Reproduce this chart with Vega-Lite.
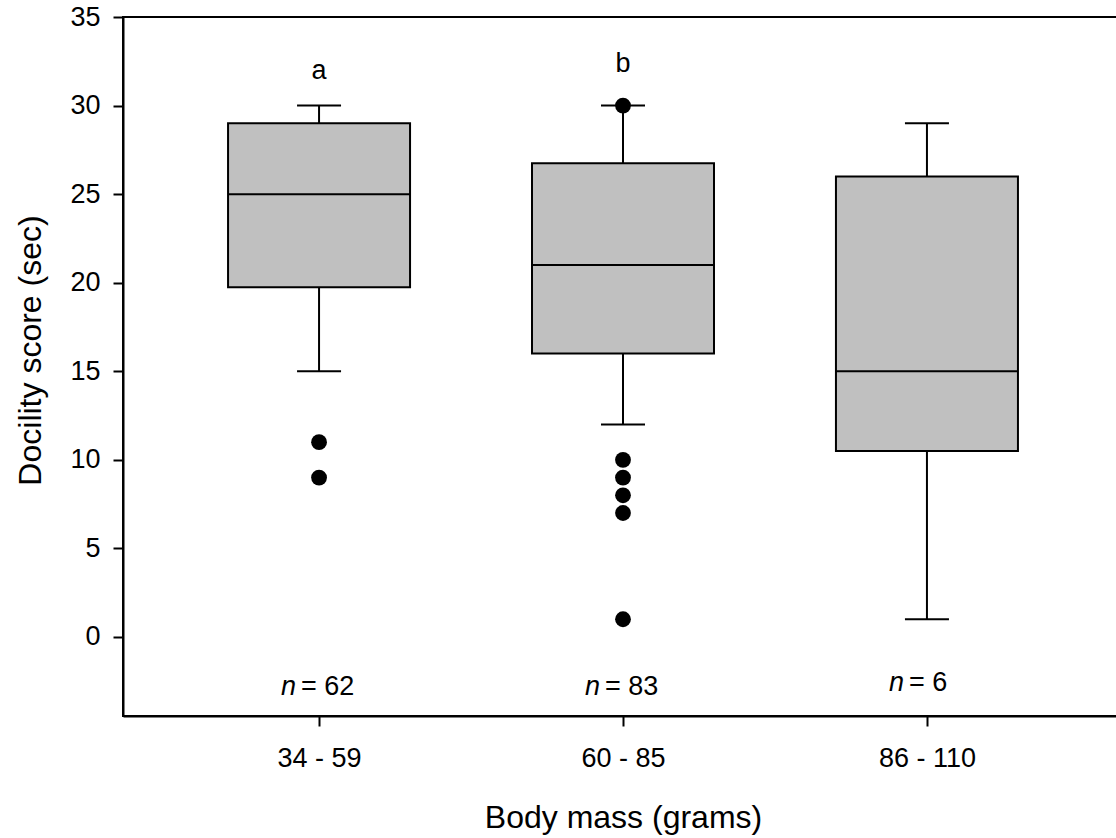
{
  "$schema": "https://vega.github.io/schema/vega-lite/v6.json",
  "autosize": "none",
  "width": 1000,
  "height": 699,
  "padding": {"left": 123, "top": 17, "right": 0, "bottom": 122},
  "background": "white",
  "config": {
    "font": "Liberation Sans",
    "view": {"stroke": "black", "strokeWidth": 2},
    "axis": {"domainColor": "black", "domainWidth": 2, "tickColor": "black", "tickWidth": 2, "labelColor": "black", "titleColor": "black", "grid": false, "labelFont": "Liberation Sans", "titleFont": "Liberation Sans", "titleFontWeight": "normal"}
  },
  "datasets": {
    "boxes": [
      {"mass": "34 - 59", "lower": 15, "q1": 19.75, "median": 25, "q3": 29, "upper": 30},
      {"mass": "60 - 85", "lower": 12, "q1": 16, "median": 21, "q3": 26.75, "upper": 30},
      {"mass": "86 - 110", "lower": 1, "q1": 10.5, "median": 15, "q3": 26, "upper": 29}
    ],
    "outliers": [
      {"mass": "34 - 59", "score": 11},
      {"mass": "34 - 59", "score": 9},
      {"mass": "60 - 85", "score": 30},
      {"mass": "60 - 85", "score": 10},
      {"mass": "60 - 85", "score": 9},
      {"mass": "60 - 85", "score": 8},
      {"mass": "60 - 85", "score": 7},
      {"mass": "60 - 85", "score": 1}
    ],
    "letters": [
      {"mass": "34 - 59", "y": 31.5, "label": "a"},
      {"mass": "60 - 85", "y": 31.9, "label": "b"}
    ],
    "counts": [
      {"mass": "34 - 59", "y": -3.27, "n": "n", "rest": "= 62"},
      {"mass": "60 - 85", "y": -3.27, "n": "n", "rest": "= 83"},
      {"mass": "86 - 110", "y": -3.05, "n": "n", "rest": "= 6"}
    ]
  },
  "encoding": {
    "x": {
      "field": "mass", "type": "ordinal", "sort": ["34 - 59", "60 - 85", "86 - 110"],
      "scale": {"type": "point", "padding": 0.645, "domain": ["34 - 59", "60 - 85", "86 - 110"]},
      "axis": {"title": "Body mass (grams)", "labelAngle": 0, "labelFontSize": 27, "tickSize": 10, "labelPadding": 19, "titleFontSize": 32, "titleBaseline": "alphabetic", "titleY": 111}
    }
  },
  "layer": [
    {
      "data": {"name": "boxes"},
      "mark": {"type": "rule", "color": "black", "strokeWidth": 2},
      "encoding": {
        "y": {"field": "lower", "type": "quantitative", "scale": {"domain": [-4.46, 35], "nice": false, "zero": false},
          "axis": {"title": "Docility score (sec)", "values": [0, 5, 10, 15, 20, 25, 30, 35], "labelFontSize": 27, "tickSize": 10, "labelPadding": 13, "titleFontSize": 32, "titleBaseline": "middle", "titleX": -93, "titleY": 333}},
        "y2": {"field": "upper"}
      }
    },
    {
      "data": {"name": "boxes"},
      "mark": {"type": "bar", "size": 182, "fill": "#c0c0c0", "stroke": "black", "strokeWidth": 2},
      "encoding": {
        "y": {"field": "q1", "type": "quantitative"},
        "y2": {"field": "q3"}
      }
    },
    {
      "data": {"name": "boxes"},
      "mark": {"type": "tick", "size": 182, "thickness": 2, "color": "black", "opacity": 1},
      "encoding": {"y": {"field": "median", "type": "quantitative"}}
    },
    {
      "data": {"name": "boxes"},
      "mark": {"type": "tick", "size": 44, "thickness": 2, "color": "black", "opacity": 1},
      "encoding": {"y": {"field": "lower", "type": "quantitative"}}
    },
    {
      "data": {"name": "boxes"},
      "mark": {"type": "tick", "size": 44, "thickness": 2, "color": "black", "opacity": 1},
      "encoding": {"y": {"field": "upper", "type": "quantitative"}}
    },
    {
      "data": {"name": "outliers"},
      "mark": {"type": "circle", "size": 250, "color": "black", "opacity": 1},
      "encoding": {"y": {"field": "score", "type": "quantitative"}}
    },
    {
      "data": {"name": "letters"},
      "mark": {"type": "text", "fontSize": 27, "baseline": "alphabetic", "align": "center", "color": "black"},
      "encoding": {"y": {"field": "y", "type": "quantitative"}, "text": {"field": "label"}}
    },
    {
      "data": {"name": "counts"},
      "mark": {"type": "text", "fontSize": 27, "fontStyle": "italic", "baseline": "alphabetic", "align": "right", "dx": -23, "color": "black"},
      "encoding": {"y": {"field": "y", "type": "quantitative"}, "text": {"field": "n"}}
    },
    {
      "data": {"name": "counts"},
      "mark": {"type": "text", "fontSize": 27, "baseline": "alphabetic", "align": "left", "dx": -18, "color": "black"},
      "encoding": {"y": {"field": "y", "type": "quantitative"}, "text": {"field": "rest"}}
    }
  ]
}
